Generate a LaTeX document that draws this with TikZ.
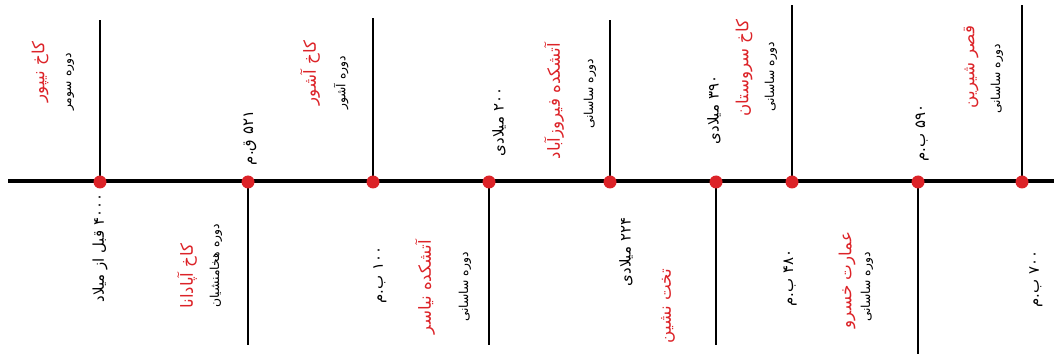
\documentclass[tikz,border=0pt]{standalone}
\usepackage{fontspec}
\usepackage{xcolor}
\newfontfamily\farsi[Script=Arabic]{DejaVu Sans}
\TeXXeTstate=1
\definecolor{sitered}{RGB}{220,35,40}

\begin{document}
\begin{tikzpicture}[x=0.02cm, y=-0.02cm,
  dot/.style={circle, fill=sitered, inner sep=0pt, minimum size=0.26cm},
  axis/.style={line width=2.8pt},
  stem/.style={line width=1.3pt},
  title/.style={text=sitered, rotate=90, inner sep=0pt, font=\farsi\fontsize{9.5}{11}\selectfont},
  period/.style={rotate=90, inner sep=0pt, font=\farsi\fontsize{7}{8}\selectfont},
  date/.style={rotate=90, inner sep=0pt, font=\farsi\fontsize{8.5}{10}\selectfont}]

\useasboundingbox (0,0) rectangle (1054,354);

% Time axis
\coordinate (L) at (8,181);
\coordinate (R) at (1054,181);
\draw[axis] (L) -- (R);

% Points on the axis
\coordinate (P1) at (100,182);
\coordinate (P2) at (248,182);
\coordinate (P3) at (373,182);
\coordinate (P4) at (489,182);
\coordinate (P5) at (610,182);
\coordinate (P6) at (716,182);
\coordinate (P7) at (792,182);
\coordinate (P8) at (918,182);
\coordinate (P9) at (1022,182);

% Ends of the stems
\coordinate (E1) at (100,20);
\coordinate (E2) at (248,345);
\coordinate (E3) at (373,18);
\coordinate (E4) at (489,345);
\coordinate (E5) at (610,20);
\coordinate (E6) at (716,345);
\coordinate (E7) at (792,5);
\coordinate (E8) at (918,354);
\coordinate (E9) at (1022,5);

\draw[stem] (P1) -- (E1);
\draw[stem] (P2) -- (E2);
\draw[stem] (P3) -- (E3);
\draw[stem] (P4) -- (E4);
\draw[stem] (P5) -- (E5);
\draw[stem] (P6) -- (E6);
\draw[stem] (P7) -- (E7);
\draw[stem] (P8) -- (E8);
\draw[stem] (P9) -- (E9);

\node[dot] (D1) at (P1) {};
\node[dot] (D2) at (P2) {};
\node[dot] (D3) at (P3) {};
\node[dot] (D4) at (P4) {};
\node[dot] (D5) at (P5) {};
\node[dot] (D6) at (P6) {};
\node[dot] (D7) at (P7) {};
\node[dot] (D8) at (P8) {};
\node[dot] (D9) at (P9) {};

% Nippur
\node[title] (T1) at (40,72) {\beginR کاخ نیپور\endR};
\node[period] (S1) at (70,82) {\beginR دوره سومر\endR};
\node[date] (Y1) at (100,248) {\beginR ۴۰۰۰ قبل از میلاد\endR};

% Apadana
\node[date] (Y2) at (250,138) {\beginR ۵۲۱ ق.م\endR};
\node[title] (T2) at (187,276) {\beginR کاخ آپادانا\endR};
\node[period] (S2) at (216,266) {\beginR دوره هخامنشیان\endR};

% Ashur
\node[title] (T3) at (310,73) {\beginR کاخ آشور\endR};
\node[period] (S3) at (341,83) {\beginR دوره آشور\endR};
\node[date] (Y3) at (380,275) {\beginR ۱۰۰ ب.م\endR};

% Niasar
\node[date] (Y4) at (499,122) {\beginR ۲۰۰ میلادی\endR};
\node[title] (T4) at (425,287) {\beginR آتشکده نیاسر\endR};
\node[period] (S4) at (465,287) {\beginR دوره ساسانی\endR};

% Firuzabad
\node[title] (T5) at (554,101) {\beginR آتشکده فیروزآباد\endR};
\node[period] (S5) at (590,94) {\beginR دوره ساسانی\endR};
\node[date] (Y5) at (626,252) {\beginR ۲۲۴ میلادی\endR};

% Takht
\node[date] (Y6) at (714,110) {\beginR ۳۹۰ میلادی\endR};
\node[title] (T6) at (668,306) {\beginR تخت نشین\endR};

% Sarvestan
\node[title] (T7) at (744,68) {\beginR کاخ سروستان\endR};
\node[period] (S7) at (771,77) {\beginR دوره ساسانی\endR};
\node[date] (Y7) at (790,278) {\beginR ۴۸۰ ب.م\endR};

% Khosrow
\node[date] (Y8) at (922,133) {\beginR ۵۹۰ ب.م\endR};
\node[title] (T8) at (847,280) {\beginR عمارت خسرو\endR};
\node[period] (S8) at (867,287) {\beginR دوره ساسانی\endR};

% Shirin
\node[title] (T9) at (971,67) {\beginR قصر شیرین\endR};
\node[period] (S9) at (997,79) {\beginR دوره ساسانی\endR};
\node[date] (Y9) at (1036,279) {\beginR ۷۰۰ ب.م\endR};

\end{tikzpicture}
\end{document}
